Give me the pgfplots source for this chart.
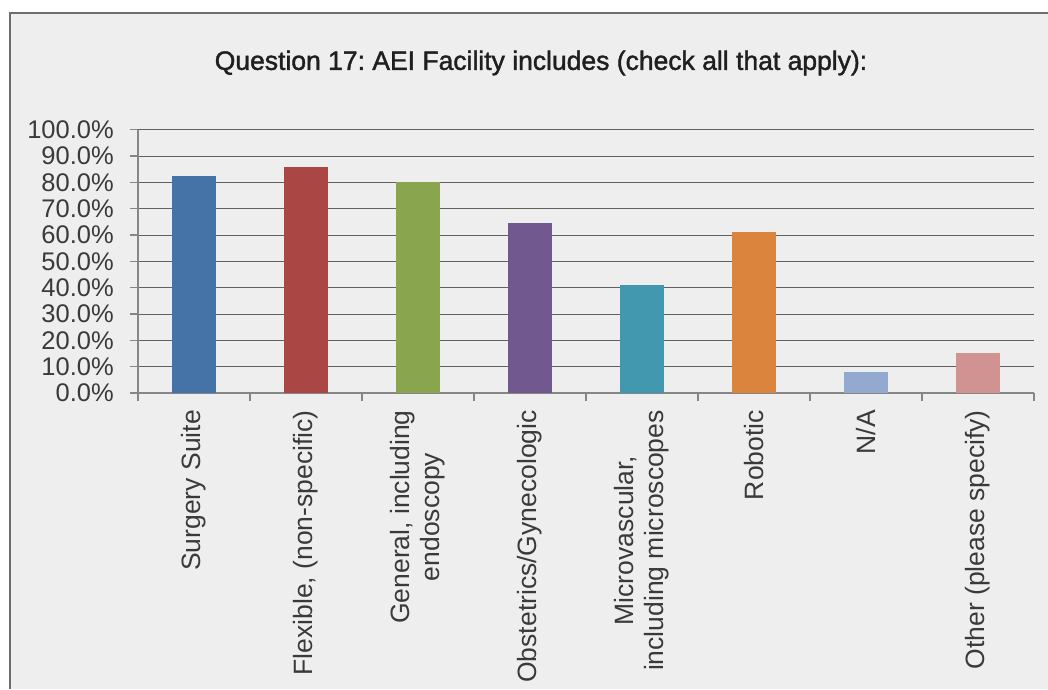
\documentclass[border=0pt]{standalone}
\usepackage{fontspec}
\setmainfont{Liberation Sans}
\usepackage{pgfplots}
\pgfplotsset{compat=1.18}

\definecolor{c1}{HTML}{4572A7}
\definecolor{c2}{HTML}{AA4643}
\definecolor{c3}{HTML}{89A54E}
\definecolor{c4}{HTML}{71588F}
\definecolor{c5}{HTML}{4198AF}
\definecolor{c6}{HTML}{DB843D}
\definecolor{c7}{HTML}{93A9CF}
\definecolor{c8}{HTML}{D19392}
\definecolor{bgc}{HTML}{EEEEEE}
\definecolor{framec}{HTML}{6E6E6E}
\definecolor{axc}{HTML}{868686}
\definecolor{txt}{HTML}{3A3A3A}

\frenchspacing
\begin{document}
\begin{tikzpicture}[x=1pt,y=1pt]
\useasboundingbox (0,0) rectangle (1048,689);
\fill[white] (0,0) rectangle (1048,689);
\fill[bgc] (10,0) rectangle (1048,676);
\draw[framec, line width=1.4pt] (10,0) -- (10,676) -- (1048,676);

\node[font=\fontsize{26.5}{30}\selectfont\addfontfeature{FakeBold=1.5}, text=black!88] at (541,626)
  {Question 17: AEI Facility includes (check all that apply):};

\begin{axis}[
  at={(138pt,296pt)}, anchor=south west,
  scale only axis, width=896pt, height=263.3pt,
  ybar, bar width=0.4,
  xmin=-0.5, xmax=7.5, ymin=0, ymax=100,
  axis x line*=bottom, axis y line*=left,
  axis line style={draw=axc, line width=1.3pt},
  xtick={0,...,7},
  xticklabels={Surgery Suite, {Flexible, (non-specific)}, {General, including\\endoscopy},
    Obstetrics/Gynecologic, {Microvascular,\\including microscopes}, Robotic, N/A,
    Other (please specify)},
  minor xtick={-0.5,0.5,...,7.5},
  major x tick style={draw=none},
  minor tick length=8pt, major tick length=8pt,
  tick align=outside,
  tick style={draw=axc, line width=1.3pt},
  ytick={0,10,...,100},
  ymajorgrids, grid style={draw=black!62, line width=1pt},
  yticklabel={\pgfmathprintnumber[fixed,fixed zerofill,precision=1]{\tick}\%},
  /pgf/number format/assume math mode=true,
  yticklabel style={font=\fontsize{25.5}{27}\selectfont, text=txt, inner sep=0pt, anchor=east, xshift=-16pt},
  xticklabel style={font=\fontsize{26.5}{30}\selectfont, text=txt, inner sep=0pt,
    yshift=-9pt, rotate=90, anchor=east, align=center},
  every axis plot/.append style={draw=none, bar shift=0pt},
]
\addplot[fill=c1] coordinates {(0,82.5)};
\addplot[fill=c2] coordinates {(1,86.0)};
\addplot[fill=c3] coordinates {(2,80.0)};
\addplot[fill=c4] coordinates {(3,64.7)};
\addplot[fill=c5] coordinates {(4,41.2)};
\addplot[fill=c6] coordinates {(5,61.3)};
\addplot[fill=c7] coordinates {(6,8.1)};
\addplot[fill=c8] coordinates {(7,15.3)};
\end{axis}
\end{tikzpicture}
\end{document}
